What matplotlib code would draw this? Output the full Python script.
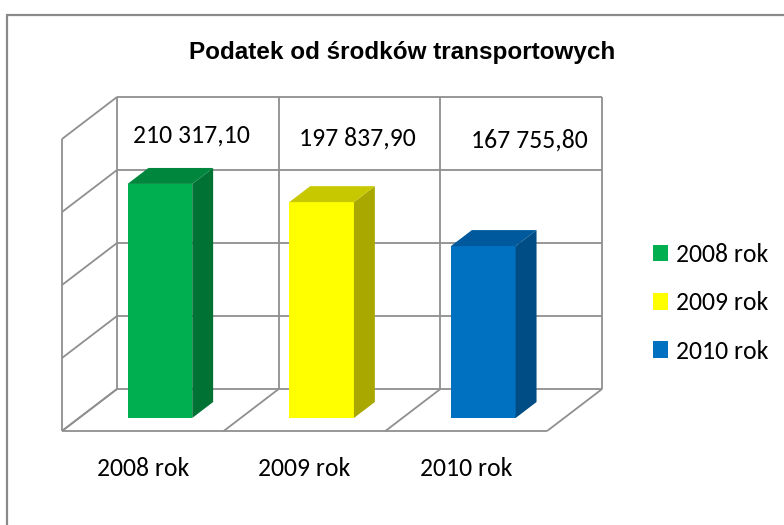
import matplotlib
matplotlib.use('Agg')
import matplotlib.pyplot as plt
from matplotlib.patches import Polygon, Patch, Rectangle
from matplotlib import font_manager

# data
categories = ['2008 rok', '2009 rok', '2010 rok']
values = [210317.10, 197837.90, 167755.80]
value_labels = ['210 317,10', '197 837,90', '167 755,80']
front_colors = ['#00B050', '#FFFF00', '#0070C0']
side_colors = ['#007234', '#A8A800', '#004C84']
top_colors = ['#00873D', '#C8C800', '#00599C']

# value axis (labels hidden, like in the original)
VMIN, VMAX, VSTEP = 50000, 250000, 50000

W, H = 784, 525
fig = plt.figure(figsize=(W / 100, H / 100), dpi=100)
ax = fig.add_axes([0, 0, 1, 1])
ax.axis('off')

# pixel layout of the pseudo 3d box
cat_px = 161.7          # width of one category in px
step_px = 73.0          # px per VSTEP
x0_px, y0_px = 62, 431  # front-left corner of the floor
upp = VSTEP / step_px   # value units per pixel
ax.set_xlim(-x0_px / cat_px, (W - x0_px) / cat_px)
ax.set_ylim(VMIN - (H - y0_px) * upp, VMIN + y0_px * upp)

# depth offset (front -> back) in data units
ddx = 55 / cat_px
ddy = 42 * upp


def P(u, v, d):
    return (u + d * ddx, v + d * ddy)


grid = dict(color='#8f8f8f', lw=1.3, zorder=1, solid_capstyle='butt')
n = len(categories)
levels = list(range(VMIN, VMAX + 1, VSTEP))

# back wall
for v in levels:
    a, b = P(0, v, 1), P(n, v, 1)
    ax.plot([a[0], b[0]], [a[1], b[1]], **grid)
for u in range(n + 1):
    a, b = P(u, VMIN, 1), P(u, VMAX, 1)
    ax.plot([a[0], b[0]], [a[1], b[1]], **grid)

# left wall
for v in levels:
    a, b = P(0, v, 0), P(0, v, 1)
    ax.plot([a[0], b[0]], [a[1], b[1]], **grid)
a, b = P(0, VMIN, 0), P(0, VMAX, 0)
ax.plot([a[0], b[0]], [a[1], b[1]], **grid)

# floor
a, b = P(0, VMIN, 0), P(n, VMIN, 0)
ax.plot([a[0], b[0]], [a[1], b[1]], **grid)
for u in range(n + 1):
    a, b = P(u, VMIN, 0), P(u, VMIN, 1)
    ax.plot([a[0], b[0]], [a[1], b[1]], **grid)

# bars
d0, d1 = 0.31, 0.69
bw = 0.40
for i, val in enumerate(values):
    cx = i + 0.5
    l, r = cx - bw / 2, cx + bw / 2
    fx, fy = P(cx, VMIN, d0)
    ax.bar(fx, val - VMIN, bottom=fy, width=bw, color=front_colors[i],
           zorder=3, linewidth=0)
    side = [P(r, VMIN, d0), P(r, VMIN, d1), P(r, val, d1), P(r, val, d0)]
    ax.add_patch(Polygon(side, closed=True, facecolor=side_colors[i],
                         edgecolor='none', zorder=3))
    top = [P(l, val, d0), P(r, val, d0), P(r, val, d1), P(l, val, d1)]
    ax.add_patch(Polygon(top, closed=True, facecolor=top_colors[i],
                         edgecolor='none', zorder=3))

fonts = ['Carlito', 'Lato', 'DejaVu Sans']

# value labels in the top row of the back wall (slightly moved by hand in the original)
label_dx = [-6, -2, 8]
label_dy = [-3, 0, 2]
for i, txt in enumerate(value_labels):
    x, _ = P(i + 0.5, VMIN, 1)
    y = VMIN + (y0_px - 138 - label_dy[i]) * upp
    ax.text(x + label_dx[i] / cat_px, y, txt, ha='center', va='center',
            fontsize=18.5, family=fonts, zorder=5)

# category labels
cat_y = VMIN - 37 * upp
for i, c in enumerate(categories):
    x, _ = P(i + 0.5, VMIN, 0)
    ax.text(x, cat_y, c, ha='center', va='center', fontsize=18.5, family=fonts)

# title (narrow bold font if available)
names = {f.name for f in font_manager.fontManager.ttflist}
if 'Liberation Sans Narrow' in names:
    tfam, tsize = 'Liberation Sans Narrow', 20
elif 'DejaVu Sans Condensed' in names:
    tfam, tsize = 'DejaVu Sans Condensed', 18
else:
    tfam, tsize = 'Liberation Sans', 17.5
fig.text(402 / W, 1 - 52 / H, 'Podatek od środków transportowych',
         ha='center', va='center', fontsize=tsize, fontweight='bold',
         family=[tfam, 'DejaVu Sans'])

# legend
handles = [Patch(facecolor=c, edgecolor='none') for c in front_colors]
fig.legend(handles, categories, loc='center left',
           bbox_to_anchor=(653 / W, 1 - 303 / H), frameon=False,
           prop={'family': fonts, 'size': 18.5}, handlelength=0.6,
           handleheight=0.6, handletextpad=0.3, labelspacing=0.98,
           borderpad=0, borderaxespad=0)

# outer chart border
fig.patches.append(Rectangle((7 / W, -0.1), 1.2, 1 - 15 / H + 0.1,
                             transform=fig.transFigure, fill=False,
                             edgecolor='#8a8a8a', lw=1.6))

fig.savefig('out.png', dpi=100)
